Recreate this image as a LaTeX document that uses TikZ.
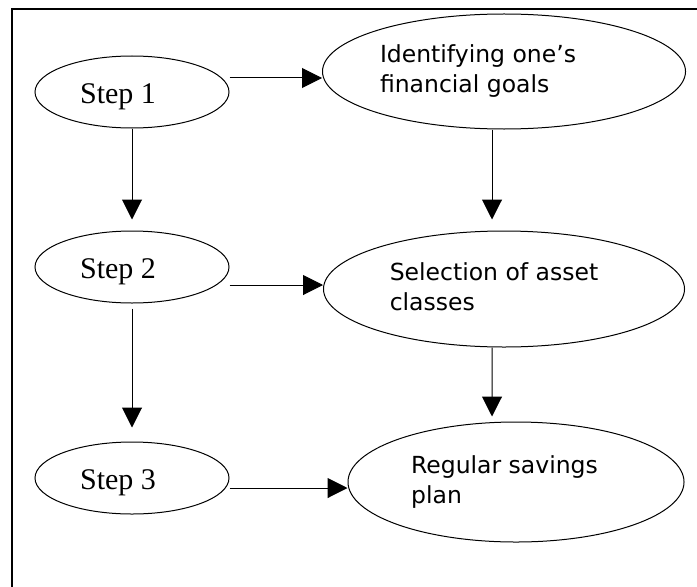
\documentclass[tikz,border=0pt]{standalone}
\usepackage{fontspec}
\setmainfont{Liberation Serif}
\newfontfamily\tahomafont{DejaVu Sans}
\usepackage{tikz}
\usetikzlibrary{shapes.geometric, arrows.meta}

\begin{document}
\begin{tikzpicture}[x=0.4pt, y=-0.4pt, >={Triangle[length=8pt, width=8pt]},
  stepnode/.style={draw, ellipse, inner sep=0pt, minimum width=77.6pt, minimum height=28.8pt, text height=10.4pt, text depth=1.6pt, font=\fontsize{12}{14.4}\selectfont},
  tasknode/.style={draw, ellipse, inner sep=0pt, font=\tahomafont\fontsize{9.4}{12}\selectfont}]
\useasboundingbox (0,0) rectangle (697,586);
\clip (0,0) rectangle (697,586);

% Frame (cut off at the right and bottom)
\draw[line width=0.8pt] (12,9) rectangle (720,620);

% Steps
\node[stepnode] (step1) at (132, 92) {Step 1\kern11.2pt};
\node[stepnode] (step2) at (132, 267) {Step 2\kern11.2pt};
\node[stepnode] (step3) at (132, 478) {Step 3\kern11.2pt};

% What each step does
\node[tasknode, minimum width=145.2pt, minimum height=46pt] (goals) at (504, 71.5) {%
\begin{tabular}{@{}l@{}}
Identifying one’s \\
financial goals
\end{tabular}\kern20.8pt};

\node[tasknode, minimum width=144.4pt, minimum height=46.4pt] (assets) at (504, 289) {%
\begin{tabular}{@{}l@{}}
Selection of asset \\
classes
\end{tabular}\kern8pt};

\node[tasknode, minimum width=134.4pt, minimum height=48pt] (savings) at (516, 482) {%
\begin{tabular}{@{}l@{}}
Regular savings \\
plan
\end{tabular}\kern9.2pt};

% Arrows
\coordinate (from1) at ([yshift=5.6pt]step1.east);
\coordinate (from2) at ([yshift=-7.2pt]step2.east);
\coordinate (from3) at ([yshift=-4pt]step3.east);
\draw[->] (from1) -- (from1 -| goals.west);
\draw[->] (from2) -- (from2 -| assets.west);
\draw[->] (from3) -- (from3 -| savings.west);

\draw[->] (step1.south) -- ([yshift=4.4pt]step2.north);
\draw[->] ([yshift=-2pt]step2.south) -- ([yshift=5.6pt]step3.north);
\draw[->] ([xshift=-4.8pt]goals.south) -- ([xshift=-4.8pt, yshift=4.4pt]assets.north);
\draw[->] ([xshift=-4.8pt]assets.south) -- ([xshift=-9.6pt, yshift=2pt]savings.north);
\end{tikzpicture}
\end{document}
